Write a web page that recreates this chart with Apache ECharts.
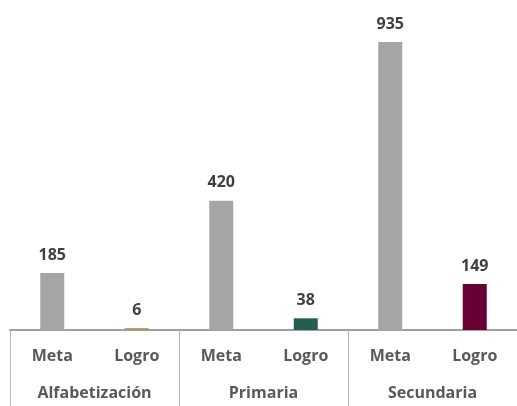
<!DOCTYPE html>
<html>
<head>
<meta charset="utf-8">
<script src="https://cdn.jsdelivr.net/npm/echarts@6/dist/echarts.min.js"></script>
<style>
  html, body { margin: 0; padding: 0; background: #fff; }
  #chart { width: 517px; height: 406px; }
</style>
</head>
<body>
<div id="chart"></div>
<script>
// data
const subLabels = ["Meta", "Logro", "Meta", "Logro", "Meta", "Logro"];
const groups = ["Alfabetización", "Primaria", "Secundaria"];
const values = [185, 6, 420, 38, 935, 149];
const barColors = ["#a5a5a5", "#b88f5e", "#a5a5a5", "#235e50", "#a5a5a5", "#690033"];

const chart = echarts.init(document.getElementById("chart"));

const labelFont = {
  fontFamily: "Open Sans",
  fontWeight: "bold",
  fontSize: 16,
  color: "#595959"
};

chart.setOption({
  animation: false,
  grid: {
    left: 10,
    right: -4,
    top: 22,
    bottom: 76,
    containLabel: false
  },
  xAxis: [
    {
      type: "category",
      data: subLabels,
      position: "bottom",
      axisLine: { show: true, lineStyle: { color: "#a0a0a0", width: 2 } },
      axisTick: { show: false },
      axisLabel: Object.assign({ margin: 18, interval: 0 }, labelFont)
    },
    {
      type: "category",
      data: groups,
      position: "bottom",
      axisLine: { show: false },
      axisTick: {
        show: true,
        alignWithLabel: false,
        length: 80,
        lineStyle: { color: "#b4b4b4", width: 1 }
      },
      axisLabel: Object.assign({ margin: 55, interval: 0 }, labelFont)
    }
  ],
  yAxis: {
    type: "value",
    min: 0,
    max: 1000,
    show: false,
    splitLine: { show: false }
  },
  series: [
    {
      type: "bar",
      xAxisIndex: 0,
      barWidth: 24,
      data: values.map((v, i) => ({
        value: v,
        itemStyle: { color: barColors[i] }
      })),
      label: {
        show: true,
        position: "top",
        distance: 10,
        fontFamily: "Open Sans",
        fontWeight: "bold",
        fontSize: 16,
        color: "#404040"
      }
    }
  ]
});
</script>
</body>
</html>
